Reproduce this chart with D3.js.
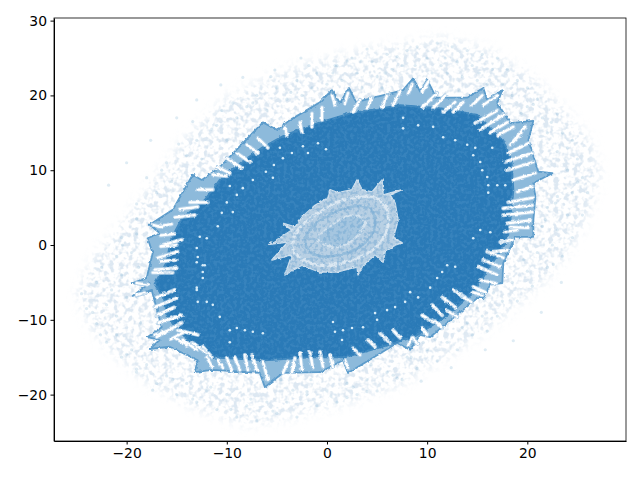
<!DOCTYPE html>
<html>
<head>
<meta charset="utf-8">
<script src="https://cdn.jsdelivr.net/npm/d3@7"></script>
<style>
  body { margin: 0; background: #fff; }
  .tick text { font-family: "DejaVu Sans"; font-size: 13.9px; fill: #000; }
</style>
</head>
<body>
<div class="chart"></div>
<script>
var svgWidth = 640;
var svgHeight = 480;

var margin = { top: 18, right: 14, bottom: 39, left: 54 };

var width = svgWidth - margin.left - margin.right;
var height = svgHeight - margin.top - margin.bottom;

var xTicks = [-20, -10, 0, 10, 20];
var yTicks = [-20, -10, 0, 10, 20, 30];

// pale haze that the sparse outer points sit in
var hazeOutline = [[-25,-7],[-23.5,-2],[-20.7,2.4],[-17.7,8],[-13.7,15],[-9.7,20],[-3.7,23.6],[2.3,25.7],[8.3,27],[11.8,27.7],[16.3,26],[20.3,22.7],[23.8,18],[26.3,14],[27.3,9.4],[26.3,4.7],[24.3,-0.7],[21.8,-4.7],[17.3,-10],[12.3,-14.7],[7.3,-18.7],[1.3,-21.4],[-4.7,-23.4],[-8.2,-24],[-12.7,-22],[-17.7,-18.7],[-21.7,-14],[-23.7,-10.7]];

// spiky outer edge of the dense cloud
var outerEdge = [[-17.7,2.7],[-15.4,4.7],[-13.4,9.4],[-12.5,8.7],[-10.7,10.4],[-6.4,16.4],[-5,15.4],[-3.7,16.7],[-0.7,19.1],[0.5,20.7],[1.3,19],[2.2,21],[2.9,19.1],[7.6,20.7],[8.6,22.3],[9.3,20.5],[10,22.1],[10.9,19.7],[14,19.7],[15.6,21],[16,19.4],[17.5,20.7],[17,19],[18.3,16.3],[20.6,16.6],[20.1,14],[21.1,9.8],[22.5,9.6],[20.6,8.3],[20.8,6.4],[20.6,3.3],[20.6,1.1],[18.8,1.1],[17.6,-2.4],[17.5,-5.1],[16.3,-5.3],[15.6,-7.1],[15,-7.1],[10.3,-12.3],[9.3,-12],[8.3,-14],[7,-13.1],[2.1,-17.1],[1.6,-15.4],[-0.7,-17],[-4.4,-17.1],[-6.2,-19],[-6.7,-17.1],[-11.4,-16.7],[-13.2,-17],[-12.9,-15.4],[-15.7,-13.6],[-17.7,-13.9],[-16.7,-12.7],[-17.9,-12.3],[-16.5,-11],[-17.5,-6],[-19.4,-6.8],[-17.7,-5.1],[-19.4,-5.1],[-18,-4.4],[-17.4,-1.1],[-17.9,0.9],[-16.7,1.6]];

var innerEdge = [[-17.2,-5.2],[-16,-2.3],[-15.6,0.7],[-14.5,3.5],[-12.2,6],[-10.7,8.7],[-8.9,10.7],[-6.5,13],[-4.2,14.7],[-0.7,16.4],[2.3,17.6],[7.3,18.7],[11.3,18.3],[15,17.4],[17.6,14],[18.4,11.4],[18.6,7.4],[18.3,3.3],[18,0.6],[16.4,-2.6],[14.6,-6.4],[12,-9.4],[8.8,-12.2],[5.5,-13.6],[1.8,-15],[-1.7,-15],[-6.2,-15.4],[-11.5,-15],[-14.5,-12],[-16,-9.5],[-16.4,-6.9]];

// pale centre with its spikes, and the rings seen inside it
var centreEdge = [[-5.7,0.1],[-3.9,0.4],[-5.5,-2],[-3.5,-1.3],[-4.2,-4],[-2.5,-2.7],[-0.7,-3.6],[1,-3.6],[3,-2.9],[3.1,-4],[3.6,-2.7],[4.8,-1.3],[5.6,-2.3],[5.8,-0.9],[6.8,0],[7.5,0.3],[6.6,0.9],[7.1,3.3],[6.8,5.6],[6.3,6.7],[7.5,7.4],[5.6,6.7],[5.5,8.7],[4.5,7.1],[3.5,7.4],[3,8.7],[2.5,7.4],[1.1,7],[0.3,7.4],[0.1,6.3],[-1.2,5.3],[-2.5,3.7],[-3.2,2.4],[-4.4,2.9],[-3.5,2]];
var centreRingA = [[-3.5,0],[-2.7,-1.7],[-0.7,-2.7],[1.8,-2.3],[4.3,-0.9],[5.8,1.3],[6.1,4],[5.3,6],[3.3,6.4],[0.8,5.6],[-1.2,4],[-2.9,2]];
var centreRingB = [[-2.2,0.3],[-1.2,-1.3],[1.3,-1.3],[3.8,0.3],[4.8,2.7],[4.3,4.9],[2.3,5.1],[-0.2,3.7],[-1.7,2]];
var centreRingC = [[-0.9,0.7],[0.8,-0.3],[2.8,0.9],[3.8,3.1],[2.5,4],[0.5,2.7]];

// white gaps between the teeth: x1, y1, x2, y2
var toothGaps = [[-16.9,2.5,-15.5,2.8],[-15.2,3.7,-13.2,4],[-14.7,4.8,-12.9,5.1],[-13.7,5.7,-11.9,5.7],[-12.9,7.4,-11.4,7.4],[-11.4,9.4,-10,9.2],[-10.9,10.4,-9.7,9.6],[-10,11.6,-8.5,10.3],[-9,12.3,-7.7,11.1],[-8,13.4,-6.9,12.3],[-6.9,14.3,-5.9,13],[-4.2,15.8,-4,14.7],[-2.7,16.4,-2.5,15.1],[-1.5,17.6,-1.5,15.8],[-0.5,18.4,-0.5,16.7],[0.5,20,0.8,18.7],[2.1,20.3,1.8,19],[3.3,19.4,2.6,17.8],[4.5,19.7,4,18.3],[6,20,5.5,18.4],[7.3,20.5,6.6,18.7],[8.5,21.5,8.1,20.2],[10.1,21.8,9.5,20.5],[11,20.3,9.5,18.4],[11.8,20,10.6,18.3],[12.8,19.1,11.6,17.8],[13.6,19.1,12.6,17.8],[15.5,20,14.5,18.7],[17,20,15.6,18.7],[17,18,14.8,16.3],[17.6,17.4,15.3,15.4],[18,16.4,16.3,15],[18.6,15.8,17.1,14.7],[19.8,15.8,18.3,13.4],[20.1,13.6,18.1,12.3],[20.5,12.3,17.8,11.1],[20.6,11.1,18,10],[20.8,9.6,18.6,8.7],[20.5,7.8,19,7.1],[20.5,6.3,18.1,5.7],[20.5,5.3,17.6,4.9],[20.5,4.4,17.6,4],[20.3,3.3,18,2.9],[20.1,2.3,18.3,2.4],[18.5,0.7,17.3,0.4],[18,-0.7,16.5,-0.9],[17.6,-1.7,16,-0.9],[17.3,-2.9,15.6,-2],[17,-4,15.1,-2.9],[16.8,-5.1,15.3,-4.7],[15.8,-6.3,14.6,-5.6],[15.5,-6.7,14.5,-6.3],[13.8,-7,12.6,-6],[12.8,-8.3,11.5,-7],[11.5,-9.4,10.5,-8],[10.6,-10.3,9.5,-9.4],[10,-12,9.5,-11.1],[8.5,-12.4,8.1,-13.4],[7.3,-12.4,6.6,-11.4],[6.3,-13.1,5.3,-11.8],[4.8,-13.6,4.1,-12.7],[3.3,-14.7,2.6,-13.8],[2.1,-16.4,1.8,-15.4],[0.6,-16.3,0.3,-14.7],[-0.4,-16.3,-0.7,-14.3],[-1.4,-16.4,-1.7,-14.4],[-2.5,-16.7,-2.7,-14.4],[-3.5,-17,-3.2,-15.1],[-4.4,-17.1,-3.9,-15.6],[-5.9,-18,-6.4,-15.6],[-7,-16.7,-7.5,-14.7],[-7.9,-16.7,-8.2,-14.7],[-8.7,-16.7,-9.2,-15],[-9.5,-16.7,-10,-15.1],[-10.4,-16.4,-10.9,-15.4],[-11.5,-15,-12.4,-13.6],[-12,-14.4,-13.4,-13.1],[-13,-14,-14.4,-12.7],[-14,-13.4,-15.2,-12.4],[-12.9,-12,-14.9,-11.4],[-15.7,-11.4,-17.2,-12],[-14.5,-10.4,-17,-12.3],[-14.5,-9.4,-16.9,-10.4],[-15.2,-8.3,-17,-9.4],[-15,-7.1,-17.2,-8.3],[-15.2,-6,-17,-7],[-17.9,-5.3,-19,-5.1],[-18.2,-6.4,-19,-6.7],[-15.4,-3.7,-17.4,-3.7],[-15,-3.1,-17.2,-3.3],[-14.9,-0.9,-16.9,-1.7],[-14.5,0.7,-16.5,0],[-16.5,2.4,-17.4,2.7],[-16.6,-2.2,-15,-2],[-16.6,-0.2,-15,0],[-16.6,1.3,-15.2,1.5],[-11.5,-16.2,-12,-15],[-15.6,-12.6,-14.2,-11.6],[9,-13.2,8.6,-12.4],[11.5,-11,10.8,-10.2],[13,-9.6,12,-8.8],[14.4,-7.6,13.4,-6.8],[19,2,17.8,1.8],[19.4,15,18.6,13.8]];

// ring of small white holes inside the dense cloud
var whiteHoles = [[-4.7,13],[-3.5,12.3],[-2.4,13.2],[-1.9,12.3],[-0.9,13.6],[-0.1,12.8],[-4.4,11.6],[-5.3,10.7],[-6.1,9.8],[-5.4,9],[-7.4,8.7],[-8.4,7.6],[-9.7,7.9],[-9,6.7],[-10,5.7],[-10.5,4.3],[-9.4,4.4],[-10.9,2.5],[7.6,15.6],[7.6,17],[9.1,16],[10.6,15.8],[11.6,14.4],[12.8,14],[14,13.4],[14.8,13],[16.5,13],[14.6,12],[15.3,11.1],[15.5,10],[16,9.1],[17,8],[17.8,8],[16.1,8],[16.1,7],[15.3,2],[16.3,1.7],[14.6,0.9],[12,-2.7],[12.8,-2.9],[11.5,-3.6],[11,-4.4],[10.3,-5.7],[9.1,-7],[8.3,-6.3],[7.8,-7.6],[6.8,-8.3],[6,-8.7],[4.8,-9.1],[5,-10],[3.6,-11],[2.5,-11.1],[1.6,-11.4],[0.8,-11.6],[0.6,-10.3],[1.5,-12.7],[-12.4,-2.7],[-12.4,-3.6],[-13,-5.7],[-12.9,-7.6],[-12,-7.6],[-11.4,-8],[-10.7,-9.6],[-9.7,-11.4],[-9,-11.1],[-8.2,-11.4],[-7.4,-11.6],[-6.4,-11.8],[-9.7,-13],[-12.7,1.1],[-12,0.9],[-13,-0.4],[-12.9,-1.6],[-13,-2.3],[-12.2,-2.7],[-12.4,-4.4],[-13,-6]];

// sparse points outside the dense cloud
var haloX = [-17,-15.5,-19,-16.5,-14,-13,-11.5,-12.5,-10,-9,-10.5,-8,-7,-6,-5,-4,-3,-2.5,-1,-1.5,0,1,1.5,2.5,3,3.5,4.5,5,6,6.5,5.5,7.5,8,8.8,9,10,10.5,11,11.8,12,12.5,13,13.5,14,14.5,15,15.5,16.5,16,17,18,17.5,18.5,19,20,20,21,21.5,22,23,23.5,23,24.5,25,24,25.5,26,24.5,23,22,24,25.5,23,21.5,24.5,22.5,23.5,21,22,20,20.5,18.5,19,17.5,17,15.5,16,14.5,13.5,13,12,11,10,9,8,7.5,6,5,4,3,2,1,0,-1,-2,-3,-4,-5,-6,-7,-8,-9,-10,-11,-12,-13,-14,-15,-16,-17,-18,-19,-19.5,-20.5,-21,-22,-21,-23,-22,-24,-21.5,-24.5,-23,-20.5,-22.5,-21,-19.5,-20.5,-19,-19,-18,-16,-14.8,-13.4,-11,-9.4,-7.4,-5.6,-3.6,-1.8,0.6,2,4,5.8,7,9.6,11.4,13.2,15.2,17.2,19.4,20.6,22.4,24,25,22.8,21.8,20.4,19.6,18,16.6,15,14,12.6,10.8,9.6,8.4,6.6,4.4,2.6,0.4,-1.6,-3.4,-5.4,-7.6,-9.6,-11.6,-13.4,-15.4,-17.4,-19,-20,-22.6,-23.4,-20,-18.8,-20.4,-18.6,-14.4,-12,-8.6,-4.6,-2,2,4,7,9.4,12.4,15.8,18.6,21.4,23.4,22.6,19.4,16.4,13.8,11.4,8.8,6.4,3.4,0.8,-2.6,-5.2,-8.4,-10.6,-13,-15,-17.6,-20,-21.8];
var haloY = [7,8.5,5.5,10,12,14,15.5,11.5,14,17,18,18.5,20,18,21,19.5,22,20,23,21,21.5,24,22,25,23,21,24.5,22.5,25.5,23.5,21,24,26,24,26.5,25,23,27,25,23,26.5,24.5,22.5,26,24,22,25.5,23.5,21.5,25,23.5,21.5,20,22,21,18.5,19.5,17,15,17.5,15,12.5,14,11.5,10,9,7,7,6.5,5,4,4,2,2.5,1,0,-1.5,-1,-3,-3.5,-5.5,-5,-7.5,-7.5,-9.5,-9.5,-11.5,-12,-11,-14,-13,-15.5,-14,-16.5,-15,-18,-17,-19.5,-18,-20,-18.5,-21,-19.5,-21.5,-20,-23,-21,-22.5,-21,-23.5,-21.5,-23,-20,-22,-19.5,-21,-18.5,-20,-17.5,-18.5,-16,-17,-14,-15,-12,-13,-9.5,-10.5,-8,-8.5,-6,-6.5,-5,-4,-3,-1.5,-1,1,1.5,3.5,9,11,13.5,16.5,16,19,19,22.5,20.4,24,23,24.6,26.2,23,25.2,21.4,24,20.6,23,20,17.6,18.8,16.4,13,8.4,5.6,3.4,2,-2,-4.2,-6.4,-8.4,-10.4,-10.2,-12.6,-13,-15,-17.4,-16,-19,-20.2,-18,-19.4,-22.2,-20.6,-22,-19,-20.6,-18,-19.4,-16.6,-14.6,-12,-9,-7,-3,0,-10.4,-5.8,-8.8,-15,-18,-19.6,-20.4,-19.6,-17.8,-18.2,-16.4,-14,-12.8,-9,-5,-2.6,3,8,12,18,21.6,22.6,24.6,24,25,23.4,22.4,21.4,19.4,17,14,11,8,5.6];

// Create an SVG wrapper, append an SVG group that will hold our chart, and shift the latter by left and top margins.
var svg = d3.select(".chart")
  .append("svg")
  .attr("width", svgWidth)
  .attr("height", svgHeight)
  .style("display", "block");

var defs = svg.append("defs");

// grainy texture, the cloud is thousands of tiny points in the original
function addSpeckle(id, freq, alphaGain, alphaOffset, blur) {
  var f = defs.append("filter")
    .attr("id", id)
    .attr("x", "-10%").attr("y", "-10%")
    .attr("width", "120%").attr("height", "120%")
    .attr("color-interpolation-filters", "sRGB");
  f.append("feGaussianBlur")
    .attr("in", "SourceGraphic")
    .attr("stdDeviation", blur)
    .attr("result", "soft");
  f.append("feTurbulence")
    .attr("type", "fractalNoise")
    .attr("baseFrequency", freq)
    .attr("numOctaves", 2)
    .attr("seed", 4)
    .attr("result", "noise");
  f.append("feColorMatrix")
    .attr("in", "noise")
    .attr("type", "matrix")
    .attr("values", `0 0 0 0 0 0 0 0 0 0 0 0 0 0 0 0 0 0 ${alphaGain} ${alphaOffset}`)
    .attr("result", "mask");
  f.append("feComposite")
    .attr("in", "soft")
    .attr("in2", "mask")
    .attr("operator", "in");
}
addSpeckle("hazeGrain", 0.2, 4.5, -2.05, 6);
addSpeckle("cloudGrain", 0.3, 5, -2.3, 0.4);

var rough = defs.append("filter")
  .attr("id", "rough")
  .attr("x", "-5%").attr("y", "-5%")
  .attr("width", "110%").attr("height", "110%")
  .attr("color-interpolation-filters", "sRGB");
rough.append("feTurbulence")
  .attr("type", "fractalNoise")
  .attr("baseFrequency", 0.28)
  .attr("numOctaves", 2)
  .attr("seed", 9)
  .attr("result", "noise");
rough.append("feDisplacementMap")
  .attr("in", "SourceGraphic")
  .attr("in2", "noise")
  .attr("scale", 3)
  .attr("xChannelSelector", "R")
  .attr("yChannelSelector", "G")
  .attr("result", "moved");
rough.append("feGaussianBlur")
  .attr("in", "moved")
  .attr("stdDeviation", 0.45);

var chartGroup = svg.append("g")
  .attr("transform", `translate(${margin.left}, ${margin.top})`);

var xLinearScale = d3.scaleLinear()
  .domain([-27.25, 29.85])
  .range([0, width]);

var yLinearScale = d3.scaleLinear()
  .domain([-26.2, 30.35])
  .range([height, 0]);

var closedPath = d3.line()
  .x(d => xLinearScale(d[0]))
  .y(d => yLinearScale(d[1]))
  .curve(d3.curveLinearClosed);

var ringPath = d3.line()
  .x(d => xLinearScale(d[0]))
  .y(d => yLinearScale(d[1]))
  .curve(d3.curveCatmullRomClosed);

defs.append("clipPath")
  .attr("id", "innerClip")
  .append("path")
  .attr("d", closedPath(innerEdge));

defs.append("clipPath")
  .attr("id", "centreClip")
  .append("path")
  .attr("d", closedPath(centreEdge));

chartGroup.append("path")
  .attr("d", closedPath(hazeOutline))
  .attr("fill", "#dde8f2")
  .attr("filter", "url(#hazeGrain)");

chartGroup.selectAll(".halo")
  .data(haloX)
  .enter()
  .append("circle")
  .attr("class", "halo")
  .attr("cx", d => xLinearScale(d))
  .attr("cy", (d, i) => yLinearScale(haloY[i]))
  .attr("r", 1.6)
  .attr("fill", "#1f77b4")
  .attr("opacity", 0.14);

var cloud = chartGroup.append("g")
  .attr("filter", "url(#rough)");

cloud.append("path")
  .attr("d", closedPath(outerEdge))
  .attr("fill", "#8dbadb")
  .attr("stroke", "#5d9ccb")
  .attr("stroke-width", 1.8)
  .attr("stroke-linejoin", "round");

cloud.append("path")
  .attr("d", closedPath(innerEdge))
  .attr("fill", "#2a7ab7")
  .attr("stroke", "#3f88bf")
  .attr("stroke-width", 2);

// pale halo under each gap, then the gap itself
[["#b4d1e8", 4.2], ["#ffffff", 2.3]].forEach(function(style) {
  cloud.append("g")
    .selectAll("line")
    .data(toothGaps)
    .enter()
    .append("line")
    .attr("x1", d => xLinearScale(d[0]))
    .attr("y1", d => yLinearScale(d[1]))
    .attr("x2", d => xLinearScale(d[2]))
    .attr("y2", d => yLinearScale(d[3]))
    .attr("stroke", style[0])
    .attr("stroke-width", style[1])
    .attr("stroke-linecap", "round");
});

chartGroup.append("g")
  .attr("clip-path", "url(#innerClip)")
  .append("rect")
  .attr("width", width)
  .attr("height", height)
  .attr("fill", "#5a9ccd")
  .attr("opacity", 0.28)
  .attr("filter", "url(#cloudGrain)");

chartGroup.selectAll(".hole")
  .data(whiteHoles)
  .enter()
  .append("circle")
  .attr("class", "hole")
  .attr("cx", d => xLinearScale(d[0]))
  .attr("cy", d => yLinearScale(d[1]))
  .attr("r", 1.3)
  .attr("fill", "#d8edf9");

var centre = chartGroup.append("g")
  .attr("filter", "url(#rough)");

centre.append("path")
  .attr("d", closedPath(centreEdge))
  .attr("fill", "#b8d0e4")
  .attr("stroke", "#cfe0ee")
  .attr("stroke-width", 1.5)
  .attr("stroke-linejoin", "round");

centre.append("path")
  .attr("d", ringPath(centreRingA))
  .attr("fill", "none")
  .attr("stroke", "#dce8f2")
  .attr("stroke-width", 3);

centre.append("path")
  .attr("d", ringPath(centreRingB))
  .attr("fill", "none")
  .attr("stroke", "#97bedc")
  .attr("stroke-width", 2.5);

centre.append("path")
  .attr("d", ringPath(centreRingC))
  .attr("fill", "#a5c6e0")
  .attr("stroke", "#d3e2ee")
  .attr("stroke-width", 2.2);

chartGroup.append("g")
  .attr("clip-path", "url(#centreClip)")
  .append("rect")
  .attr("width", width)
  .attr("height", height)
  .attr("fill", "#6ea5d0")
  .attr("opacity", 0.45)
  .attr("filter", "url(#cloudGrain)");

var bottomAxis = d3.axisBottom(xLinearScale)
  .tickValues(xTicks)
  .tickSizeInner(3.5)
  .tickSizeOuter(0)
  .tickPadding(3.5);

var leftAxis = d3.axisLeft(yLinearScale)
  .tickValues(yTicks)
  .tickSizeInner(3.5)
  .tickSizeOuter(0)
  .tickPadding(3.5);

chartGroup.append("g")
  .attr("transform", `translate(0, ${height})`)
  .call(bottomAxis);

chartGroup.append("g")
  .call(leftAxis);

chartGroup.append("rect")
  .attr("width", width)
  .attr("height", height)
  .attr("fill", "none")
  .attr("stroke", "#000")
  .attr("stroke-width", 0.8);
</script>
</body>
</html>
